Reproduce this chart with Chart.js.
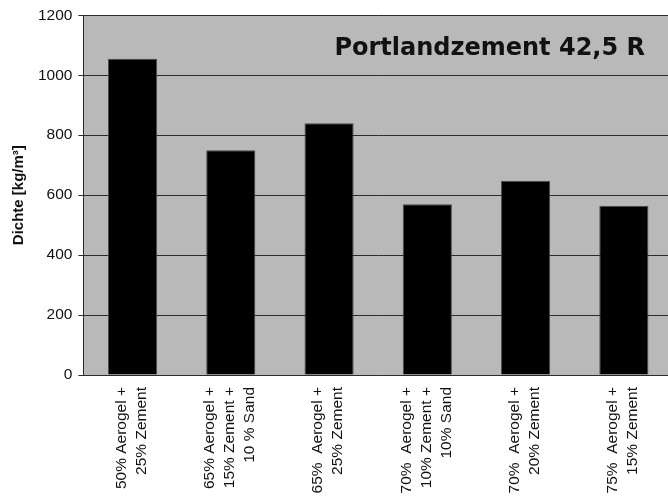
<!DOCTYPE html>
<html>
<head>
<meta charset="utf-8">
<script src="https://cdn.jsdelivr.net/npm/chart.js@4/dist/chart.umd.min.js"></script>
<style>
  html, body { margin: 0; padding: 0; background: #fff; overflow: hidden; }
  #wrap { width: 673px; height: 497px; }
</style>
</head>
<body>
<div id="wrap"><canvas id="densityChart" width="673" height="497"></canvas></div>
<script>
// Mischungen (Beschriftung zeilenweise) und gemessene Dichte
const mixLabels = [
  ['50% Aerogel +', '25% Zement'],
  ['65% Aerogel +', '15% Zement +', '10 % Sand'],
  ['65%  Aerogel +', '25% Zement'],
  ['70%  Aerogel +', '10% Zement +', '10% Sand'],
  ['70%  Aerogel +', '20% Zement'],
  ['75%  Aerogel +', '15% Zement']
];
const densityValues = [1055, 750, 840, 570, 648, 565];
const yTicks = [0, 200, 400, 600, 800, 1000, 1200];
const chartTitle = 'Portlandzement 42,5 R';
const yTitle = 'Dichte [kg/m³]';

const plotGray = '#b9b9b9';
const lineColor = '#2b2b2b';
const textColor = '#111';

Chart.defaults.font.family = '"Liberation Sans", Arial, sans-serif';
Chart.defaults.color = textColor;

// Grauer Hintergrund, Titel im Diagramm und gedrehte Kategorien
const plotDecor = {
  id: 'plotDecor',
  beforeDraw(chart) {
    const { ctx, chartArea: a } = chart;
    ctx.save();
    ctx.fillStyle = plotGray;
    ctx.fillRect(a.left, a.top, a.right - a.left, a.bottom - a.top);
    ctx.restore();
  },
  afterDraw(chart) {
    const { ctx, chartArea: a } = chart;
    const x = chart.scales.x;
    ctx.save();
    ctx.fillStyle = textColor;
    ctx.font = 'bold 24px "DejaVu Sans", Verdana, sans-serif';
    ctx.textAlign = 'right';
    ctx.textBaseline = 'alphabetic';
    ctx.fillText(chartTitle, a.right - 28, a.top + 40);

    ctx.font = '15.5px "Liberation Sans", Arial, sans-serif';
    ctx.textBaseline = 'middle';
    mixLabels.forEach((lines, i) => {
      const px = x.getPixelForValue(i);
      lines.forEach((line, j) => {
        ctx.save();
        ctx.translate(px + (j - (lines.length - 1) / 2) * 20 - 1, a.bottom + 12);
        ctx.rotate(-Math.PI / 2);
        ctx.textAlign = 'right';
        ctx.fillText(line, 0, 0);
        ctx.restore();
      });
    });
    ctx.restore();
  }
};

new Chart(document.getElementById('densityChart').getContext('2d'), {
  type: 'bar',
  data: {
    labels: mixLabels,
    datasets: [{
      data: densityValues,
      backgroundColor: '#000',
      borderColor: '#4a4a4a',
      borderWidth: 1,
      barPercentage: 0.5,
      categoryPercentage: 1.0
    }]
  },
  options: {
    responsive: false,
    animation: false,
    devicePixelRatio: 1,
    layout: { padding: { top: 15, left: 0, right: 0, bottom: 0 } },
    plugins: {
      legend: { display: false },
      tooltip: { enabled: false }
    },
    scales: {
      x: {
        grid: { display: false },
        border: { display: true, color: lineColor, width: 1 },
        ticks: { display: false },
        afterFit: scale => { scale.height = 122; }
      },
      y: {
        min: 0,
        max: 1200,
        afterBuildTicks: scale => { scale.ticks = yTicks.map(v => ({ value: v })); },
        ticks: {
          padding: 6,
          color: textColor,
          font: { size: 15.5 },
          callback: v => String(v)
        },
        grid: {
          color: lineColor,
          lineWidth: 1,
          tickLength: 5,
          tickColor: lineColor
        },
        border: { display: true, color: lineColor, width: 1 },
        title: {
          display: true,
          text: yTitle,
          color: textColor,
          font: { size: 15, weight: 'bold' },
          padding: { top: 10, bottom: 0 }
        },
        afterFit: scale => { scale.width = 83.4; }
      }
    }
  },
  plugins: [plotDecor]
});
</script>
</body>
</html>
